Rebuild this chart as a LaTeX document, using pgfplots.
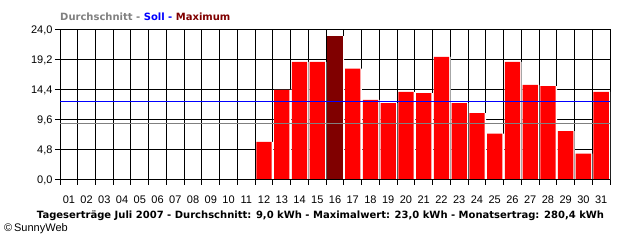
\documentclass[border=0pt]{standalone}
\usepackage{pgfplots}
\pgfplotsset{compat=1.18}
\usepackage{fontspec}
\setmainfont{Liberation Sans}
\newfontfamily\titlefont{DejaVu Sans}
\definecolor{sred}{HTML}{FF0000}
\definecolor{smax}{HTML}{800000}
\definecolor{sgray}{HTML}{808080}
\definecolor{sblue}{HTML}{0000FF}
\begin{document}
\begin{tikzpicture}
\path[fill=white] (0pt,0pt) rectangle (640pt,240pt);
\begin{axis}[
  at={(60pt,60pt)}, anchor=south west,
  scale only axis, width=550pt, height=150pt,
  xmin=0.5, xmax=31.5, ymin=0, ymax=24,
  xtick={1,...,31},
  xticklabels={01,02,03,04,05,06,07,08,09,10,11,12,13,14,15,16,17,18,19,20,21,22,23,24,25,26,27,28,29,30,31},
  major x tick style={draw=none},
  minor xtick={0.5,1.5,...,31.5},
  xminorgrids=true, xmajorgrids=false,
  ytick={0,4.8,9.6,14.4,19.2,24},
  ymajorgrids=true,
  tick align=outside, tick pos=left,
  major tick length=5pt, minor tick length=5pt,
  grid style={black, line width=1pt},
  minor grid style={black, line width=1pt},
  axis line style={black, line width=1pt},
  every tick/.style={black, line width=1pt},
  tick label style={font=\fontsize{11}{13}\selectfont},
  xticklabel style={yshift=-7pt},
  yticklabel style={xshift=1pt},
  /pgf/number format/.cd, fixed, fixed zerofill, precision=1, use comma, assume math mode=true,
]
\addplot[ybar, bar width=17pt, bar shift=0.6pt, fill=white, draw=none] coordinates {
(12,6.1) (13,14.4) (14,18.9) (15,18.9) (16,23.0) (17,17.8) (18,12.8) (19,12.3) (20,14.1) (21,13.9)
(22,19.7) (23,12.3) (24,10.7) (25,7.4) (26,18.9) (27,15.2) (28,15.0) (29,7.8) (30,4.2) (31,14.1)};
\addplot[ybar, bar width=15.3pt, bar shift=0pt, fill=sred, draw=none] coordinates {
(12,6.1) (13,14.4) (14,18.9) (15,18.9) (17,17.8) (18,12.8) (19,12.3) (20,14.1) (21,13.9)
(22,19.7) (23,12.3) (24,10.7) (25,7.4) (26,18.9) (27,15.2) (28,15.0) (29,7.8) (30,4.2) (31,14.1)};
\addplot[ybar, bar width=15.3pt, bar shift=0pt, fill=smax, draw=none] coordinates {(16,23.0)};
\addplot[sblue, line width=1pt] coordinates {(0.5,12.6) (31.5,12.6)};
\addplot[sgray, line width=1pt] coordinates {(0.5,9.0) (31.5,9.0)};
\draw[black, line width=1pt] (axis cs:0.5,0) -- (axis cs:31.5,0);
\end{axis}
\node[anchor=west, inner sep=0pt, font=\titlefont\bfseries\fontsize{10}{12}\selectfont] at (60pt,223.5pt)
  {\textcolor{sgray}{Durchschnitt - }\textcolor{sblue}{Soll - }\textcolor{smax}{Maximum}};
\node[inner sep=0pt, font=\titlefont\bfseries\fontsize{10}{12}\selectfont] at (320.5pt,24pt)
  {Tageserträge Juli 2007 - Durchschnitt: 9,0 kWh - Maximalwert: 23,0 kWh - Monatsertrag: 280,4 kWh};
\node[anchor=west, inner sep=0pt, font=\fontsize{11}{13}\selectfont] at (4pt,11pt)
  {\textcopyright\,SunnyWeb};
\end{tikzpicture}
\end{document}
